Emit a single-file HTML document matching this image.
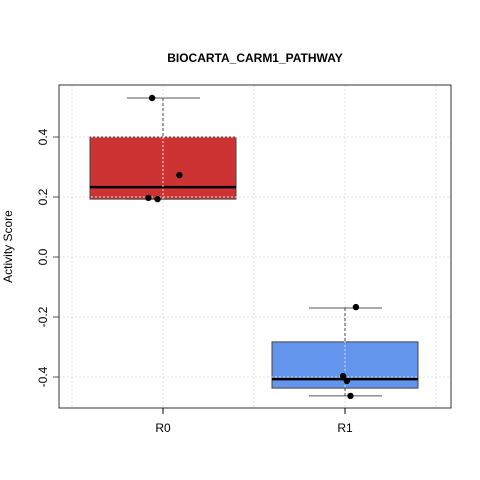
<!DOCTYPE html>
<html><head><meta charset="utf-8"><style>body{margin:0;background:#fff}svg{display:block;font-family:"Liberation Sans",sans-serif}</style></head>
<body>
<svg id="chart" width="480" height="480"></svg>
<script>
const categories = ["R0","R1"];
const q1 = [0.193, -0.437];
const medians = [0.233, -0.407];
const q3 = [0.400, -0.283];
const whiskLo = [0.193, -0.463];
const whiskHi = [0.530, -0.170];
const colors = ["#cd3333","#6495ed"];
const pointsY = [[0.530,0.273,0.197,0.193],[-0.167,-0.397,-0.413,-0.463]];
const pointsJitter = [[-0.06,0.09,-0.08,-0.03],[0.06,-0.01,0.01,0.03]];
const yTicks = [-0.4,-0.2,0.0,0.2,0.4];
const yTickLabels = ["-0.4","-0.2","0.0","0.2","0.4"];
const xGrid = [-0.5,0,0.5,1,1.5];

const NS="http://www.w3.org/2000/svg", svg=document.getElementById('chart');
const L=59,R=451,T=85,B=408;
const y=v=>257-300*v;
const x=i=>163+i*182;
const bw=73;
function mk(t,a,p){const e=document.createElementNS(NS,t);for(const k in a)e.setAttribute(k,a[k]);(p||svg).appendChild(e);return e;}
categories.forEach((c,i)=>{
const cx=x(i);
const grp=mk('g',{});
mk('line',{x1:cx-36,x2:cx+37,y1:y(whiskHi[i]),y2:y(whiskHi[i]),stroke:'#555'},grp);
mk('line',{x1:cx-36,x2:cx+37,y1:y(whiskLo[i]),y2:y(whiskLo[i]),stroke:'#555'},grp);
mk('rect',{x:cx-bw,y:y(q3[i]),width:bw*2,height:y(q1[i])-y(q3[i]),fill:colors[i],stroke:'#444'},grp);
mk('line',{x1:cx-bw,x2:cx+bw,y1:y(medians[i]),y2:y(medians[i]),stroke:'#000','stroke-width':2.5},grp);
});
yTicks.forEach((v,i)=>{const g=mk('line',{x1:L,x2:R,y1:y(v),y2:y(v),stroke:'#e0e0e0','stroke-dasharray':'2,2'});
});
xGrid.forEach(v=>{const g=mk('line',{x1:x(v),x2:x(v),y1:T,y2:B,stroke:'#e0e0e0','stroke-dasharray':'2,2'});
});
categories.forEach((c,i)=>{const cx=x(i);
const w1=mk('line',{x1:cx,x2:cx,y1:y(whiskHi[i]),y2:y(q3[i]),stroke:'#444','stroke-dasharray':'3,2'});

const w2=mk('line',{x1:cx,x2:cx,y1:y(q1[i]),y2:y(whiskLo[i]),stroke:'#444','stroke-dasharray':'3,2'});

pointsY[i].forEach((v,j)=>{const p=mk('circle',{cx:cx+pointsJitter[i][j]*182,cy:y(v),r:3.2,fill:'#000'});
});});
const f=mk('rect',{x:L,y:T,width:R-L,height:B-T,fill:'none',stroke:'#333'});
yTicks.forEach((v,i)=>{mk('line',{x1:L-6,x2:L,y1:y(v),y2:y(v),stroke:'#555'});
const t=mk('text',{x:0,y:0,'font-size':12,'text-anchor':'middle',transform:`translate(${L-12},${y(v)}) rotate(-90)`});t.textContent=yTickLabels[i];
});
categories.forEach((c,i)=>{mk('line',{x1:x(i),x2:x(i),y1:B,y2:B+6,stroke:'#000'});
const t=mk('text',{x:x(i),y:B+24,'font-size':12,'text-anchor':'middle'});t.textContent=c;
});
const yt=mk('text',{x:0,y:0,'font-size':12,'text-anchor':'middle',transform:`translate(12,${(T+B)/2}) rotate(-90)`});yt.textContent='Activity Score';

const tt=mk('text',{x:255,y:62,'font-size':12,'font-weight':'bold','text-anchor':'middle'});tt.textContent='BIOCARTA_CARM1_PATHWAY';

</script>
</body></html>
